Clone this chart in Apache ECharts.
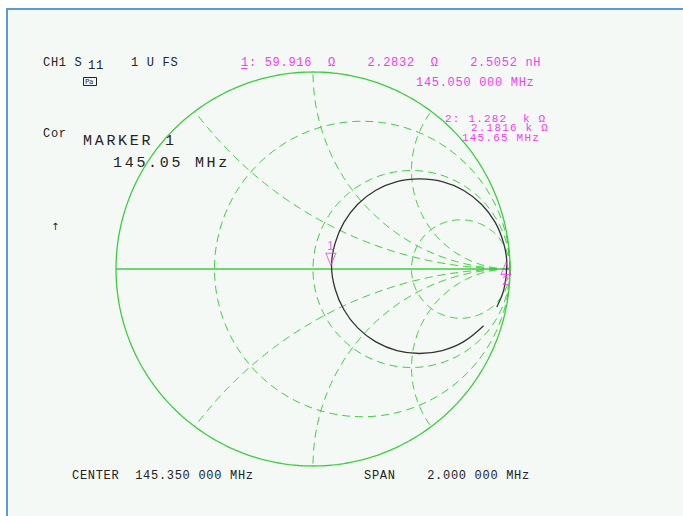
<!DOCTYPE html>
<html>
<head>
<meta charset="utf-8">
<script src="https://cdn.jsdelivr.net/npm/echarts@6/dist/echarts.min.js"></script>
<style>
  html, body { margin: 0; padding: 0; background: #ffffff; }
  #frame { position: absolute; left: 6px; top: 8px; right: 0; bottom: 0;
           background: #f5f9f6; border-left: 2px solid #5b9bd5; border-top: 2px solid #5b9bd5; }
  #chart { position: absolute; left: 0; top: 0; width: 683px; height: 516px; }
  #chart text { letter-spacing: 0.7px; }
  #chart text[style*="15px"] { letter-spacing: 2.7px; }
  #chart text[style*="11px"] { letter-spacing: 1.2px; }
</style>
</head>
<body>
<div id="frame"></div>
<div id="chart"></div>
<script>
// S11 sweep, 144.35 -> 146.35 MHz: reflection coefficient (real, imaginary) along the trace
const traceRe = [0.866, 0.763, 0.656, 0.541, 0.426, 0.319, 0.227, 0.157, 0.112, 0.094,
                 0.112, 0.157, 0.227, 0.319, 0.426, 0.541, 0.656, 0.763, 0.855, 0.925,
                 0.968, 0.984, 0.970, 0.933];
const traceIm = [-0.288, -0.370, -0.414, -0.429, -0.414, -0.370, -0.299, -0.207, -0.100, 0.017,
                 0.130, 0.237, 0.329, 0.400, 0.444, 0.457, 0.444, 0.400, 0.329, 0.237,
                 0.130, 0.025, -0.100, -0.193];

// Marker readouts: series resistance and reactance in ohms
const markerLabels = ['1', '2'];
const markerR = [59.916, 1282];
const markerX = [2.2832, 2181.6];
const Z0 = 50;

// Smith chart graticule values (normalised)
const resistanceCircles = [1 / 3, 1, 3];
const reactanceArcs = [0.5, 1, 2];

const GREEN = '#3fcc3f';
const MAGENTA = '#f23cf2';
const INK = '#222222';
const SMALL = '12px "Liberation Mono"';
const TIGHT = '11px "Liberation Mono"';
const LARGE = '15px "Liberation Mono"';

function gammaOf(r, x) {
  // (z - 1) / (z + 1) with z = (r + jx) / Z0
  const zr = r / Z0, zx = x / Z0;
  const nr = zr - 1, ni = zx, dr = zr + 1, di = zx;
  const d = dr * dr + di * di;
  return [(nr * dr + ni * di) / d, (ni * dr - nr * di) / d];
}

function circlePts(cx, cy, rad, a0, a1, n) {
  const pts = [];
  for (let i = 0; i <= n; i++) {
    const a = a0 + (a1 - a0) * i / n;
    pts.push([cx + rad * Math.cos(a), cy + rad * Math.sin(a)]);
  }
  return pts;
}

function reactancePts(x) {
  const ax = Math.abs(x), s = Math.sign(x);
  const px = (ax * ax - 1) / (ax * ax + 1), py = 2 * ax / (ax * ax + 1);
  let phi = Math.atan2(py - 1 / ax, px - 1);
  if (phi > -Math.PI / 2) phi -= 2 * Math.PI;
  return circlePts(1, 1 / ax, 1 / ax, -Math.PI / 2, phi, 160).map(p => [p[0], s * p[1]]);
}

const dashed = { color: GREEN, width: 1, type: [8, 5] };
const series = [];

series.push({ type: 'line', data: circlePts(0, 0, 1, 0, 2 * Math.PI, 360),
  lineStyle: { color: GREEN, width: 1.3 } });
series.push({ type: 'line', data: [[-1, 0], [1, 0]], lineStyle: { color: GREEN, width: 1.3 } });
resistanceCircles.forEach(r => {
  series.push({ type: 'line', data: circlePts(r / (1 + r), 0, 1 / (1 + r), 0, 2 * Math.PI, 240),
    lineStyle: dashed });
});
reactanceArcs.forEach(x => {
  series.push({ type: 'line', data: reactancePts(x), lineStyle: dashed });
  series.push({ type: 'line', data: reactancePts(-x), lineStyle: dashed });
});
series.forEach(s => { s.showSymbol = false; s.symbol = 'none'; s.silent = true; s.clip = false; });

// measured trace
series.push({
  type: 'line', symbol: 'none', smooth: 0.4, silent: true,
  data: traceRe.map((v, i) => [v, traceIm[i]]),
  lineStyle: { color: '#333333', width: 1.3 }
});

// markers
const mk = markerR.map((r, i) => gammaOf(r, markerX[i]));
series.push({
  type: 'scatter', silent: true,
  data: [{ value: mk[0], symbolRotate: 180, symbolOffset: [0, -6],
           label: { show: true, position: 'top', distance: 1, formatter: markerLabels[0] } },
         { value: mk[1], symbolRotate: 0, symbolOffset: [0, 6],
           label: { show: true, position: 'bottom', distance: 0, formatter: markerLabels[1] } }],
  symbol: 'triangle', symbolSize: [10, 12],
  itemStyle: { color: 'rgba(0,0,0,0)', borderColor: MAGENTA, borderWidth: 1 },
  label: { color: MAGENTA, font: '8px "Liberation Mono"' },
  z: 5
});

function txt(x, y, text, font, fill) {
  return { type: 'text', x: x, y: y, silent: true,
    style: { text: text, font: font, fill: fill, verticalAlign: 'middle',
             textVerticalAlign: 'middle', align: 'left' } };
}

const graphic = [
  txt(43, 63, 'CH1 S', SMALL, INK),
  txt(88, 66, '11', SMALL, INK),
  txt(131, 63, '1 U FS', SMALL, INK),
  { type: 'rect', silent: true, shape: { x: 83.5, y: 77.5, width: 13, height: 8 },
    style: { fill: 'none', stroke: INK, lineWidth: 1 } },
  txt(85, 82, 'Pa', '7px "DejaVu Sans"', INK),
  txt(43, 134, 'Cor', SMALL, INK),
  txt(83, 141, 'MARKER 1', LARGE, INK),
  txt(113, 163, '145.05 MHz', LARGE, INK),
  txt(51, 226, '↑', '10px "DejaVu Sans"', INK),
  txt(241, 63, '1: 59.916  Ω    2.2832  Ω    2.5052 nH', SMALL, MAGENTA),
  { type: 'line', silent: true, shape: { x1: 241, y1: 68.5, x2: 247, y2: 68.5 },
    style: { stroke: MAGENTA, lineWidth: 1 } },
  txt(416, 83, '145.050 000 MHz', SMALL, MAGENTA),
  txt(445, 119, '2: 1.282  k Ω', TIGHT, MAGENTA),
  txt(471, 128, '2.1816 k Ω', TIGHT, MAGENTA),
  txt(462, 137.5, '145.65 MHz', TIGHT, MAGENTA),
  txt(72, 476, 'CENTER  145.350 000 MHz', SMALL, INK),
  txt(364, 476, 'SPAN    2.000 000 MHz', SMALL, INK)
];

const chart = echarts.init(document.getElementById('chart'), null, { renderer: 'svg' });
chart.setOption({
  animation: false,
  backgroundColor: 'transparent',
  grid: { left: 116, top: 72, width: 394, height: 394 },
  xAxis: { type: 'value', min: -1, max: 1, show: false },
  yAxis: { type: 'value', min: -1, max: 1, show: false },
  series: series,
  graphic: graphic
});

function spaceText() {
  document.querySelectorAll('#chart text').forEach(t => {
    const fs = parseFloat(getComputedStyle(t).fontSize);
    let ls = '0px';
    if (fs >= 14) ls = '2.7px';
    else if (fs >= 12) ls = '0.7px';
    else if (fs >= 11) ls = '1.2px';
    t.style.letterSpacing = ls;
  });
}
chart.on('finished', spaceText);
spaceText();
</script>
</body>
</html>
